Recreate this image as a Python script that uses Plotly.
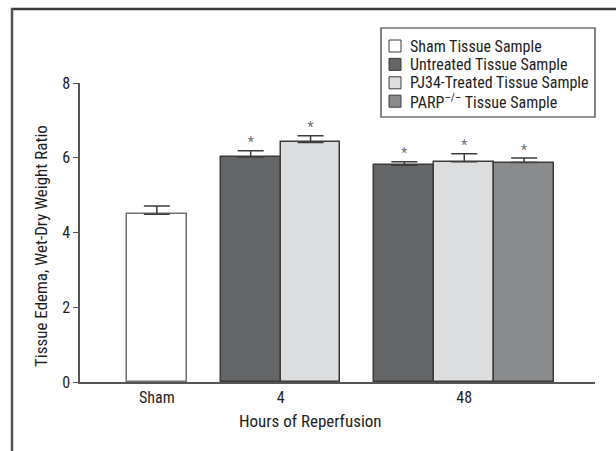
import plotly.graph_objects as go

# ---- data ----
groups = ["Sham", "4", "48"]
series_names = ["Sham Tissue Sample", "Untreated Tissue Sample",
                "PJ34-Treated Tissue Sample", "PARP<sup>–/–</sup> Tissue Sample"]
sham_vals = [4.49, None, None]
untreated_vals = [None, 6.02, 5.80]
pj34_vals = [None, 6.41, 5.89]
parp_vals = [None, None, 5.87]
sham_err = [0.22, None, None]
untreated_err = [None, 0.17, 0.09]
pj34_err = [None, 0.18, 0.22]
parp_err = [None, None, 0.12]
sham_sig = [False, False, False]
untreated_sig = [False, True, True]
pj34_sig = [False, True, True]
parp_sig = [False, False, True]

y_ticks = [0, 2, 4, 6, 8]

colors = ["#ffffff", "#646567", "#dcdddf", "#8a8b8d"]
outlines = ["#707070", "#3c3c3c", "#3c3c3c", "#3c3c3c"]
FONT = "Liberation Sans Narrow, Roboto Condensed, Arial Narrow, sans-serif"
TXT = "#1e1e1e"

series = [(sham_vals, sham_err, sham_sig), (untreated_vals, untreated_err, untreated_sig),
          (pj34_vals, pj34_err, pj34_sig), (parp_vals, parp_err, parp_sig)]

# ---- figure geometry (pixels) ----
W, H = 616, 451
PL, PR, PT, PB = 80, 595, 83, 382     # plot area edges
pw, ph = PR - PL, PB - PT


def px(x):
    return (x - PL) / pw


def py(y):
    return (PB - y) / ph


# bar positions: width-1 bars packed per group, gap between groups
gap = 0.567
pos = {}
group_centers = []
cursor = 0.0
for gi in range(len(groups)):
    present = [si for si, s in enumerate(series) if s[0][gi] is not None]
    for k, si in enumerate(present):
        pos[(si, gi)] = cursor + k + 0.5
    group_centers.append(cursor + len(present) / 2)
    cursor += len(present) + gap
shift = pos[(0, 0)]

fig = go.Figure()
for si, ((vals, errs, sig), name, col, oc) in enumerate(zip(series, series_names, colors, outlines)):
    xs, ys, es, sx, sy = [], [], [], [], []
    for gi, v in enumerate(vals):
        if v is None:
            continue
        xs.append(pos[(si, gi)] - shift)
        ys.append(v)
        es.append(errs[gi])
        if sig[gi]:
            sx.append(pos[(si, gi)] - shift)
            sy.append(v + errs[gi])
    fig.add_trace(go.Bar(
        x=xs, y=ys, width=1, name=name, showlegend=False,
        marker=dict(color=col, line=dict(color=oc, width=1.5)),
        error_y=dict(type="data", array=es, arrayminus=[0] * len(es),
                     color="#3c3c3c", thickness=1.5, width=13),
    ))
    if sx:
        fig.add_trace(go.Scatter(
            x=sx, y=sy, mode="text", text=["*"] * len(sx),
            textposition="top center", showlegend=False, hoverinfo="skip",
            textfont=dict(family=FONT, size=14, color="#707070"),
        ))

xmin = -0.5 - 47 / 60
xmax = pos[(3, 2)] - shift + 0.5 + 41 / 60

# ---- manual legend (box + swatches + labels) ----
shapes = []
annotations = []
LX0, LX1, LY0, LY1 = 381, 595, 28, 117
shapes.append(dict(type="rect", xref="paper", yref="paper",
                   x0=px(LX0), x1=px(LX1), y0=py(LY1), y1=py(LY0),
                   line=dict(color="#333333", width=1.2), fillcolor="white", layer="above"))
row0, row_h, sw = 46, 18.4, 12
for i, (name, col) in enumerate(zip(series_names, colors)):
    cy = row0 + i * row_h
    shapes.append(dict(type="rect", xref="paper", yref="paper",
                       x0=px(389), x1=px(389 + sw), y0=py(cy + sw / 2), y1=py(cy - sw / 2),
                       line=dict(color="#3c3c3c", width=1), fillcolor=col, layer="above"))
    annotations.append(dict(text=name, xref="paper", yref="paper", x=px(408), y=py(cy),
                            xanchor="left", yanchor="middle", showarrow=False,
                            font=dict(family=FONT, size=16, color=TXT)))

# outer frame lines
shapes.append(dict(type="line", xref="paper", yref="paper", x0=px(11), x1=px(W),
                   y0=py(9), y1=py(9), line=dict(color="#3a3a3a", width=2.5), layer="above"))
shapes.append(dict(type="line", xref="paper", yref="paper", x0=px(12), x1=px(12),
                   y0=py(8), y1=py(H), line=dict(color="#555555", width=2.5), layer="above"))

annotations.append(dict(text="Hours of Reperfusion", xref="paper", yref="paper",
                        x=px(310), y=py(421), xanchor="center", yanchor="middle",
                        showarrow=False, font=dict(family=FONT, size=17, color=TXT)))
annotations.append(dict(text="Tissue Edema, Wet-Dry Weight Ratio", xref="paper", yref="paper",
                        x=px(41), y=py(246), xanchor="center", yanchor="middle", textangle=-90,
                        showarrow=False, font=dict(family=FONT, size=17, color=TXT)))

fig.update_layout(
    width=W, height=H,
    margin=dict(l=PL, r=W - PR, t=PT, b=H - PB, pad=0),
    paper_bgcolor="white", plot_bgcolor="white",
    font=dict(family=FONT, size=16, color=TXT),
    bargap=0, barmode="overlay",
    showlegend=False,
    xaxis=dict(range=[xmin, xmax], tickvals=[c - shift for c in group_centers],
               ticktext=groups, showline=True, linecolor="#555555", linewidth=1.5,
               ticks="", showgrid=False, zeroline=False,
               tickfont=dict(family=FONT, size=16, color=TXT)),
    yaxis=dict(range=[0, 8], tickvals=y_ticks, showline=True, linecolor="#555555",
               linewidth=1.5, ticks="outside", ticklen=5, tickcolor="#555555",
               tickwidth=1.2, showgrid=False, zeroline=False,
               tickfont=dict(family=FONT, size=16, color=TXT)),
    shapes=shapes,
    annotations=annotations,
)

fig.write_html("out.html", config={"displayModeBar": False},
               post_script="document.body.style.margin='0';")
